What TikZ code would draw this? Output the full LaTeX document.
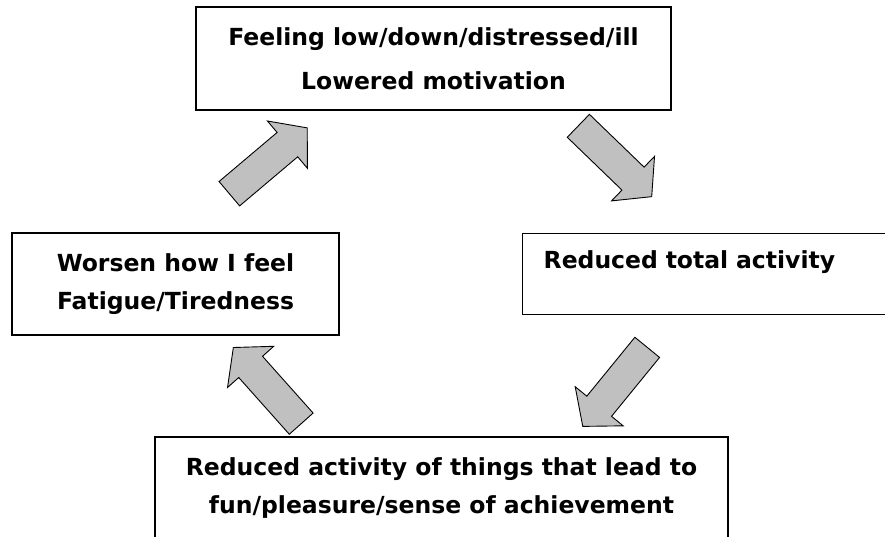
\documentclass[tikz,border=0pt]{standalone}
\usepackage{fontspec}
\setmainfont{DejaVu Sans}
\usetikzlibrary{shapes.arrows}
\definecolor{arrowgray}{HTML}{C0C0C0}

\begin{document}
\begin{tikzpicture}[x=1pt, y=1pt,
  every node/.style={font=\fontsize{23.5}{38}\selectfont\bfseries},
  box/.style={rectangle, draw, line width=1.3pt, align=center, inner sep=0pt},
  cyclearrow/.style={single arrow, draw, line width=0.9pt, fill=arrowgray,
    inner xsep=0pt, inner ysep=15.5pt, minimum height=102pt,
    single arrow head extend=15pt, single arrow tip angle=100, anchor=tail}]

\useasboundingbox (0,0) rectangle (885,536);

\node[box, minimum width=475pt, minimum height=103pt] (feelLow) at (433.5,477.5)
  {Feeling low/down/distressed/ill\\[6pt]Lowered motivation};
\node[box, minimum width=327pt, minimum height=102pt] (worsen) at (175.5,252)
  {Worsen how I feel\\Fatigue/Tiredness};
\node[box, anchor=north west, align=left, text width=326pt, inner xsep=21pt,
  text height=35pt, text depth=46pt] (reducedTotal) at (522,303)
  {Reduced total activity};
\node[box, minimum width=573pt, minimum height=103pt] (reducedFun) at (441.5,47.5)
  {Reduced activity of things that lead to\\fun/pleasure/sense of achievement};

\node[cyclearrow, rotate=40.2] (worsenToLow) at (229,342) {};
\node[cyclearrow, rotate=-44] (lowToTotal) at (578,410.5) {};
\node[cyclearrow, rotate=230.8] (totalToFun) at (647.5,189) {};
\node[cyclearrow, rotate=131.7] (funToWorsen) at (301.5,112) {};

\end{tikzpicture}
\end{document}
